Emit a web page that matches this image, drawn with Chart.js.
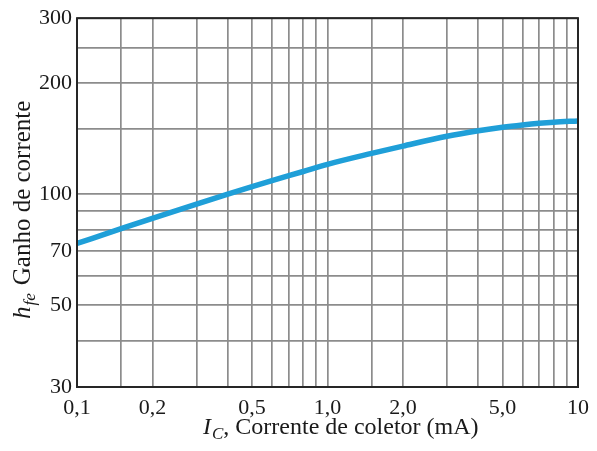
<!DOCTYPE html>
<html>
<head>
<meta charset="utf-8">
<script src="https://cdn.jsdelivr.net/npm/chart.js@4"></script>
<style>
  html, body { margin: 0; padding: 0; background: #fff; }
  canvas { display: block; }
</style>
</head>
<body>
<canvas id="c" width="597" height="451"></canvas>
<script>
// Collector current (mA) and small-signal current gain h_fe
const currentMA = [0.1, 0.15, 0.2, 0.3, 0.4, 0.5, 0.6, 0.8, 1.0, 1.5, 2.0, 3.0, 4.0, 5.0, 6.0, 7.0, 8.0, 10];
const gainHfe   = [73.5, 80.6, 86, 94, 100, 104.8, 108.8, 115.2, 120.5, 129, 135, 143.5, 148.5, 151.8, 154, 155.6, 156.7, 158];

// Grid lines of the log-log paper
const xGridValues = [0.1, 0.15, 0.2, 0.3, 0.4, 0.5, 0.6, 0.7, 0.8, 0.9, 1, 1.5, 2, 3, 4, 5, 6, 7, 8, 9, 10];
const yGridValues = [30, 40, 50, 60, 70, 80, 90, 100, 150, 200, 250, 300];

// Labelled ticks
const xLabelValues = [0.1, 0.2, 0.5, 1, 2, 5, 10];
const xLabelText   = ['0,1', '0,2', '0,5', '1,0', '2,0', '5,0', '10'];
const yLabelValues = [30, 50, 70, 100, 200, 300];
const yLabelText   = ['30', '50', '70', '100', '200', '300'];

const SERIF = '"Liberation Serif", "Times New Roman", serif';
const GRID = '#8c8c8c';

function labelFor(values, texts, v) {
  const i = values.findIndex(x => Math.abs(x - v) < 1e-9);
  return i >= 0 ? texts[i] : '';
}

// Draws a sequence of text runs (font / baseline shift) starting at (x, y)
function drawRuns(ctx, runs, x, y) {
  let cx = x;
  for (const r of runs) {
    ctx.font = r.font;
    ctx.fillText(r.text, cx, y + (r.dy || 0));
    cx += ctx.measureText(r.text).width + (r.gap || 0);
  }
}

const framePlugin = {
  id: 'frameAndTitles',
  afterDraw(chart) {
    const ctx = chart.ctx;
    const a = chart.chartArea;
    ctx.save();
    ctx.strokeStyle = '#262626';
    ctx.lineWidth = 2;
    ctx.strokeRect(a.left, a.top, a.right - a.left, a.bottom - a.top);

    ctx.fillStyle = '#1a1a1a';
    ctx.textAlign = 'left';
    ctx.textBaseline = 'alphabetic';

    // x-axis title
    drawRuns(ctx, [
      { text: 'I', font: 'italic 24px ' + SERIF, gap: 1 },
      { text: 'C', font: 'italic 17px ' + SERIF, dy: 5 },
      { text: ', Corrente de coletor (mA)', font: '24px ' + SERIF }
    ], 203, 434);

    // y-axis title (rotated)
    ctx.translate(30, 319);
    ctx.rotate(-Math.PI / 2);
    drawRuns(ctx, [
      { text: 'h', font: 'italic 25px ' + SERIF, gap: 1 },
      { text: 'fe', font: 'italic 17px ' + SERIF, dy: 5, gap: 8 },
      { text: 'Ganho de corrente', font: '25px ' + SERIF }
    ], 0, 0);
    ctx.restore();
  }
};

new Chart(document.getElementById('c'), {
  type: 'scatter',
  data: {
    datasets: [{
      data: currentMA.map((x, i) => ({ x: x, y: gainHfe[i] })),
      showLine: true,
      borderColor: '#1f9fd8',
      borderWidth: 5.5,
      pointRadius: 0,
      cubicInterpolationMode: 'monotone',
      fill: false
    }]
  },
  options: {
    responsive: false,
    animation: false,
    layout: { padding: { top: 15, right: 14, left: 0, bottom: 0 } },
    plugins: { legend: { display: false }, tooltip: { enabled: false } },
    scales: {
      x: {
        type: 'logarithmic',
        min: 0.1,
        max: 10,
        afterBuildTicks: s => { s.ticks = xGridValues.map(v => ({ value: v })); },
        afterFit: s => { s.height = 64; },
        grid: { color: GRID, lineWidth: 1.7, drawTicks: false },
        border: { display: false },
        ticks: {
          autoSkip: false,
          maxRotation: 0,
          padding: 8,
          color: '#1a1a1a',
          font: { family: SERIF, size: 22 },
          callback: v => labelFor(xLabelValues, xLabelText, v)
        }
      },
      y: {
        type: 'logarithmic',
        min: 30,
        max: 300,
        afterBuildTicks: s => { s.ticks = yGridValues.map(v => ({ value: v })); },
        afterFit: s => { s.width = 77; },
        grid: { color: GRID, lineWidth: 1.7, drawTicks: false },
        border: { display: false },
        ticks: {
          autoSkip: false,
          padding: 5,
          color: '#1a1a1a',
          font: { family: SERIF, size: 22 },
          callback: v => labelFor(yLabelValues, yLabelText, v)
        }
      }
    }
  },
  plugins: [framePlugin]
});
</script>
</body>
</html>
